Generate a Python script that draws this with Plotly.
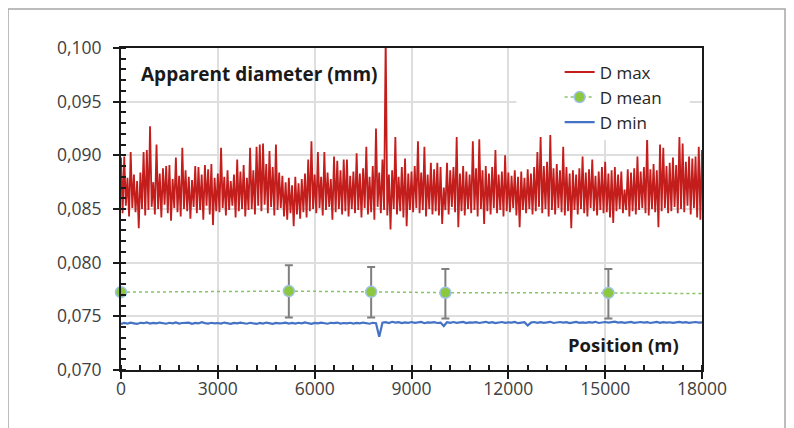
import plotly.graph_objects as go

# ---------------- data (in micrometres) ----------------
step_max = 50      # m between D max samples
d_max_um = [
    89.8, 84.6, 89.9, 85.3, 87.9, 84.3, 90.3, 85.1, 88.2, 84.7, 87.6, 83.2, 88.4, 85.0, 90.3, 84.4, 90.5, 84.9, 92.7, 85.2,
    87.5, 84.5, 91.0, 85.0, 88.3, 84.2, 88.8, 85.4, 89.0, 84.6, 89.1, 83.9, 87.8, 85.1, 89.8, 84.7, 88.1, 84.3, 90.7, 85.0,
    88.6, 84.8, 88.0, 84.1, 87.7, 85.2, 89.0, 84.6, 88.9, 84.9, 88.2, 84.0, 89.1, 85.3, 88.7, 84.5, 89.2, 83.5, 87.9, 84.8,
    88.3, 84.7, 90.7, 85.1, 88.0, 84.4, 88.6, 84.9, 87.6, 85.3, 88.2, 84.2, 89.6, 84.8, 88.5, 85.0, 89.1, 84.3, 87.9, 84.9,
    90.7, 85.0, 88.6, 84.5, 90.8, 85.3, 91.0, 84.8, 91.1, 85.4, 89.2, 84.6, 90.4, 85.2, 88.9, 84.4, 91.0, 84.9, 88.4, 85.1,
    88.1, 84.3, 87.5, 84.0, 87.9, 84.6, 87.2, 83.4, 88.0, 84.5, 87.4, 84.1, 87.8, 84.7, 88.3, 84.2, 89.6, 84.8, 91.3, 85.0,
    88.2, 84.6, 90.3, 85.1, 88.0, 84.4, 90.3, 84.9, 88.4, 85.2, 87.8, 84.0, 89.9, 84.7, 89.5, 85.0, 88.6, 84.5, 89.6, 84.8,
    89.6, 84.3, 88.1, 85.0, 88.5, 84.6, 90.2, 84.9, 88.3, 84.2, 88.8, 85.1, 90.8, 84.5, 88.0, 84.7, 89.0, 84.0, 92.5, 85.2,
    88.4, 84.6, 89.6, 84.9, 101.0, 84.4, 88.2, 83.1, 88.6, 85.0, 91.7, 84.5, 88.0, 84.8, 88.9, 84.2, 89.7, 83.4, 88.3, 84.9,
    88.5, 84.7, 89.0, 85.1, 91.3, 84.6, 88.4, 84.9, 90.8, 84.3, 88.2, 85.0, 89.3, 84.5, 88.7, 84.8, 89.3, 84.4, 88.9, 83.6,
    87.0, 84.9, 89.3, 84.5, 88.6, 85.2, 88.9, 84.7, 91.7, 83.3, 88.3, 84.8, 89.0, 84.4, 88.5, 85.0, 88.2, 84.6, 91.3, 84.9,
    88.8, 84.3, 91.5, 85.0, 88.6, 83.6, 89.0, 84.8, 88.3, 84.5, 88.9, 85.1, 90.5, 84.6, 88.2, 84.9, 88.5, 84.3, 90.0, 84.8,
    88.4, 84.7, 88.1, 85.1, 88.6, 84.4, 88.0, 83.3, 88.5, 84.9, 87.9, 84.6, 88.7, 85.0, 88.3, 84.5, 88.9, 84.8, 90.3, 85.2,
    91.7, 84.6, 89.0, 85.0, 89.4, 84.3, 91.9, 84.9, 88.8, 84.5, 89.2, 85.1, 88.6, 84.7, 90.8, 84.4, 88.9, 84.8, 88.3, 83.2,
    88.6, 84.9, 88.2, 84.5, 88.8, 85.0, 89.9, 84.6, 88.4, 84.3, 88.7, 85.1, 89.6, 84.8, 88.1, 84.4, 88.5, 84.9, 88.9, 84.6,
    89.4, 84.7, 88.3, 84.2, 88.6, 83.7, 88.9, 84.8, 88.2, 85.0, 88.5, 84.6, 86.8, 84.9, 88.7, 84.3, 88.4, 84.8, 88.8, 84.5,
    89.9, 84.9, 88.5, 85.1, 88.9, 84.6, 91.7, 84.4, 88.7, 85.0, 89.2, 84.7, 88.6, 83.3, 91.0, 84.8, 90.7, 85.1, 89.0, 84.6,
    89.3, 84.8, 89.8, 85.2, 89.1, 84.6, 91.7, 85.0, 91.1, 84.7, 89.4, 85.3, 89.9, 84.5, 89.7, 85.1, 89.9, 84.2, 90.8, 84.0,
    90.5,
]

step_min = 100     # m between D min samples
d_min_um = [
    74.30, 74.38, 74.33, 74.41, 74.35, 74.29, 74.40, 74.36, 74.44, 74.32,
    74.39, 74.34, 74.42, 74.37, 74.31, 74.40, 74.35, 74.43, 74.33, 74.38,
    74.36, 74.41, 74.30, 74.39, 74.34, 74.45, 74.37, 74.32, 74.40, 74.35,
    74.38, 74.33, 74.42, 74.36, 74.30, 74.39, 74.34, 74.41, 74.37, 74.31,
    74.40, 74.35, 74.29, 74.38, 74.33, 74.42, 74.36, 74.30, 74.39, 74.34,
    74.37, 74.41, 74.33, 74.38, 74.32, 74.40, 74.35, 74.43, 74.36, 74.30,
    74.39, 74.34, 74.41, 74.37, 74.31, 74.40, 74.36, 74.42, 74.33, 74.38,
    74.35, 74.40, 74.32, 74.39, 74.34, 74.42, 74.37, 74.31, 74.40, 74.36,
    73.10, 74.40, 74.46, 74.38, 74.49, 74.41, 74.45, 74.37, 74.44, 74.40,
    74.47, 74.39, 74.43, 74.48, 74.36, 74.44, 74.41, 74.46, 74.38, 74.42,
    74.10, 74.45, 74.40, 74.47, 74.39, 74.43, 74.48, 74.37, 74.44, 74.41,
    74.46, 74.38, 74.43, 74.49, 74.40, 74.45, 74.37, 74.42, 74.47, 74.39,
    74.44, 74.41, 74.48, 74.36, 74.43, 74.46, 74.15, 74.42, 74.47, 74.39,
    74.45, 74.40, 74.44, 74.49, 74.38, 74.43, 74.47, 74.41, 74.45, 74.37,
    74.42, 74.48, 74.40, 74.44, 74.39, 74.46, 74.42, 74.49, 74.38, 74.43,
    74.47, 74.41, 74.45, 74.50, 74.42, 74.46, 74.39, 74.44, 74.48, 74.40,
    74.43, 74.47, 74.41, 74.45, 74.38, 74.44, 74.48, 74.40, 74.46, 74.42,
    74.45, 74.39, 74.44, 74.48, 74.41, 74.46, 74.40, 74.43, 74.47, 74.42,
    74.44,
]

mean_pos = [0, 5200, 7750, 10050, 15100]
mean_um = [77.25, 77.35, 77.28, 77.20, 77.18]
mean_err_plus = [0.0, 2.40, 2.32, 2.20, 2.22]
mean_err_minus = [0.0, 2.45, 2.38, 2.40, 2.38]
mean_end_pos = [15100, 18000]
mean_end_um = [77.18, 77.12]

x_ticks = [0, 3000, 6000, 9000, 12000, 15000, 18000]
y_ticks = [0.070, 0.075, 0.080, 0.085, 0.090, 0.095, 0.100]

# ---------------- build ----------------
um = lambda vals: [v / 1000 for v in vals]
pos_max = [i * step_max for i in range(len(d_max_um))]
pos_min = [i * step_min for i in range(len(d_min_um))]

FONT = "Open Sans"
TXT = "#404040"
GREEN_LINE = "#86C467"

fig = go.Figure()

fig.add_trace(go.Scatter(
    x=pos_max, y=um(d_max_um), name="D max", mode="lines", legendrank=1,
    line=dict(color="#C31D1C", width=1.8),
))
fig.add_trace(go.Scatter(
    x=pos_min, y=um(d_min_um), name="D min", mode="lines", legendrank=3,
    line=dict(color="#4472C4", width=2.2),
))
fig.add_trace(go.Scatter(
    x=mean_end_pos, y=um(mean_end_um), mode="lines", showlegend=False,
    line=dict(color=GREEN_LINE, width=1.5, dash="dot"), hoverinfo="skip",
))
fig.add_trace(go.Scatter(
    x=mean_pos, y=um(mean_um), name="D mean", mode="lines+markers", legendrank=2,
    line=dict(color=GREEN_LINE, width=1.5, dash="dot"),
    marker=dict(color="#8DC63F", size=11, line=dict(color="#9DC3E6", width=1.5)),
    error_y=dict(type="data", symmetric=False, array=um(mean_err_plus),
                 arrayminus=um(mean_err_minus), color="#7F7F7F", thickness=2, width=4),
    cliponaxis=False,
))

fig.update_layout(
    width=794, height=428,
    margin=dict(l=113, r=100, t=40, b=66),
    paper_bgcolor="white", plot_bgcolor="white",
    separators=",.",
    font=dict(family=FONT, size=17, color=TXT),
    showlegend=True,
    legend=dict(
        x=0.755, y=0.98, xanchor="left", yanchor="top",
        bgcolor="white", borderwidth=0,
        font=dict(family=FONT, size=17, color="#262626"),
        traceorder="normal", tracegroupgap=0,
    ),
    xaxis=dict(
        range=[0, 18000], tickvals=x_ticks, tickformat="d",
        showgrid=True, gridcolor="#DEDEDE", gridwidth=1.5,
        zeroline=False, showline=True, linecolor="#1A1A1A", linewidth=2,
        mirror=True, ticks="outside", ticklen=7, tickwidth=2, tickcolor="#1A1A1A",
        minor=dict(dtick=600, ticks="inside", ticklen=5, tickwidth=1.5,
                   tickcolor="#1A1A1A", showgrid=False),
        tickfont=dict(family=FONT, size=17.5, color=TXT),
        ticklabelstandoff=-5,
    ),
    yaxis=dict(
        range=[0.070, 0.100], tickvals=y_ticks, tickformat=".3f",
        showgrid=True, gridcolor="#DEDEDE", gridwidth=1.5,
        zeroline=False, showline=True, linecolor="#1A1A1A", linewidth=2,
        mirror=True, ticks="outside", ticklen=6, tickwidth=2, tickcolor="#1A1A1A",
        minor=dict(dtick=0.001, ticks="inside", ticklen=5, tickwidth=1.5,
                   tickcolor="#1A1A1A", showgrid=False),
        tickfont=dict(family=FONT, size=17.5, color=TXT),
        ticklabelstandoff=8,
    ),
    annotations=[
        dict(x=4300, y=0.0976, xref="x", yref="y", text="<b>Apparent diameter (mm)</b>",
             showarrow=False, font=dict(family=FONT, size=19, color="#1A1A1A")),
        dict(x=15570, y=0.07233, xref="x", yref="y", text="<b>Position (m)</b>",
             showarrow=False, font=dict(family=FONT, size=18.5, color="#1A1A1A")),
    ],
    shapes=[
        # white box behind the legend hiding the gridlines
        dict(type="rect", xref="x", yref="y", x0=12250, x1=17620, y0=0.0924, y1=0.100,
             fillcolor="white", line=dict(width=0), layer="between"),
        # outer frame of the picture
        dict(type="path", xref="paper", yref="paper",
             path="M -0.1945,-0.3 L -0.1945,1.121 L 1.1429,1.121 L 1.1429,-0.3",
             line=dict(color="#A6A6A6", width=1.5)),
    ],
)

fig.write_html("out.html")
